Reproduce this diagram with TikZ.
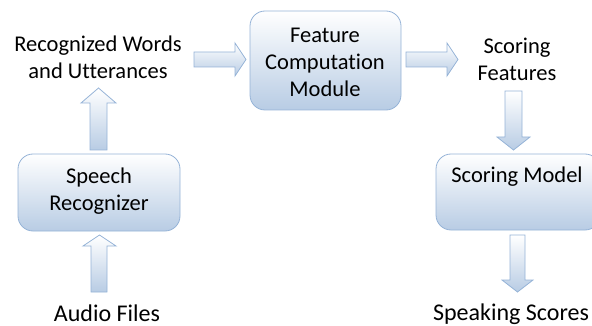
\documentclass[tikz,border=0pt]{standalone}
\usepackage{fontspec}
\setmainfont{Carlito}[Ligatures={NoCommon}]
\definecolor{boxblue}{RGB}{184,204,228}
\definecolor{edgeblue}{RGB}{149,179,215}
\begin{document}
\begin{tikzpicture}[x=1pt,y=-1pt,
  blk/.style={draw=edgeblue,line width=0.8pt,top color=white,bottom color=boxblue},
  procbox/.style={blk,rounded corners=15pt},
  barrow/.style={draw=edgeblue,line width=0.8pt,top color=white,bottom color=boxblue,line join=miter},
  lbl/.style={font=\fontsize{22.5}{27}\selectfont,align=center,inner sep=0pt},
  biglbl/.style={lbl,font=\fontsize{24}{27}\selectfont}]
\clip (0,0) rectangle (592,326);
\useasboundingbox (0,0) rectangle (592,326);
% boxes
\path[procbox] (250,11) rectangle (401,110);
\path[procbox] (18,154) rectangle (180,231);
\path[procbox] (436,154) rectangle (600,230);
% block arrows
\path[barrow] (194,52)--(235,52)--(235,43)--(246,59.5)--(235,76)--(235,67)--(194,67)--cycle;
\path[barrow] (406,52)--(447,52)--(447,43)--(458,59.5)--(447,76)--(447,67)--(406,67)--cycle;
\path[barrow] (90,150)--(90,103)--(81,103)--(98.5,88)--(116,103)--(107,103)--(107,150)--cycle;
\path[barrow] (91,292)--(91,246)--(83,246)--(99.5,235)--(116,246)--(107,246)--(107,292)--cycle;
\path[barrow] (505,91)--(522,91)--(522,137)--(530,137)--(513.5,150)--(497,137)--(505,137)--cycle;
\path[barrow] (510,235)--(525,235)--(525,280)--(533,280)--(517.5,292)--(502,280)--(510,280)--cycle;
% labels
\node[lbl] (rw) at (98,57) {Recognized Words\\and Utterances};
\node[lbl] (fcm) at (325,62) {Feature\\Computation\\Module};
\node[lbl] (sf) at (517,59) {Scoring\\Features};
\node[lbl] (sr) at (99,191) {Speech\\Recognizer};
\node[lbl] (sm) at (517,177) {Scoring Model};
\node[biglbl] (af) at (107,313) {Audio Files};
\node[biglbl] (ss) at (511,314) {Speaking Scores};
\end{tikzpicture}
\end{document}
